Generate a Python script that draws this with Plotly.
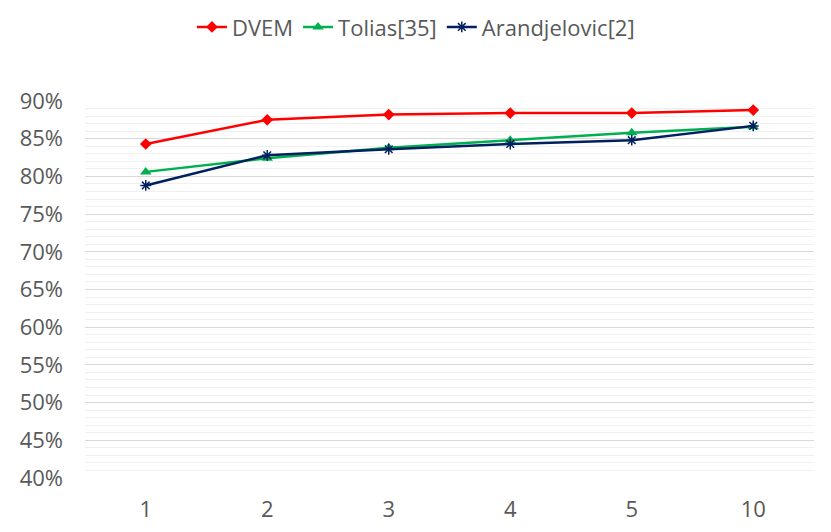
import plotly.graph_objects as go

categories = ["1", "2", "3", "4", "5", "10"]
dvem = [0.843, 0.875, 0.882, 0.884, 0.884, 0.888]
tolias = [0.806, 0.824, 0.838, 0.848, 0.858, 0.866]
arandjelovic = [0.788, 0.828, 0.836, 0.843, 0.848, 0.867]

fig = go.Figure()
fig.add_trace(go.Scatter(x=categories, y=dvem, name="DVEM", mode="lines+markers",
                         line=dict(color="#FF0000", width=2.5),
                         marker=dict(symbol="diamond", size=9, color="#FF0000")))
fig.add_trace(go.Scatter(x=categories, y=tolias, name="Tolias[35]", mode="lines+markers",
                         line=dict(color="#00B050", width=2.5),
                         marker=dict(symbol="triangle-up", size=10, color="#00B050")))
fig.add_trace(go.Scatter(x=categories, y=arandjelovic, name="Arandjelovic[2]", mode="lines+markers",
                         line=dict(color="#002060", width=2.5),
                         marker=dict(symbol="asterisk-open", size=9, color="#002060",
                                     line=dict(color="#002060", width=1.5))))

fig.update_layout(
    width=831, height=532,
    paper_bgcolor="white", plot_bgcolor="white",
    margin=dict(l=77, r=25, t=93, b=62),
    font=dict(family="Open Sans, Liberation Sans, sans-serif", color="#595959"),
    legend=dict(orientation="h", x=0.454, xanchor="center",
                yref="container", y=0.964, yanchor="middle",
                font=dict(size=22, color="#595959"), itemwidth=30),
    xaxis=dict(type="category", range=[-0.5, 5.5], showgrid=False, showline=False, zeroline=False,
               tickfont=dict(size=22, color="#595959"), ticks="", ticklabelstandoff=16),
    yaxis=dict(range=[0.40, 0.90], dtick=0.05, tickformat=".0%", showline=False, zeroline=False,
               gridcolor="#D9D9D9", gridwidth=1.2,
               minor=dict(dtick=0.01, showgrid=True, gridcolor="#F0F0F0", gridwidth=1),
               tickfont=dict(size=22, color="#595959"), ticks="", ticklabelstandoff=21),
)

fig.write_html("out.html")
